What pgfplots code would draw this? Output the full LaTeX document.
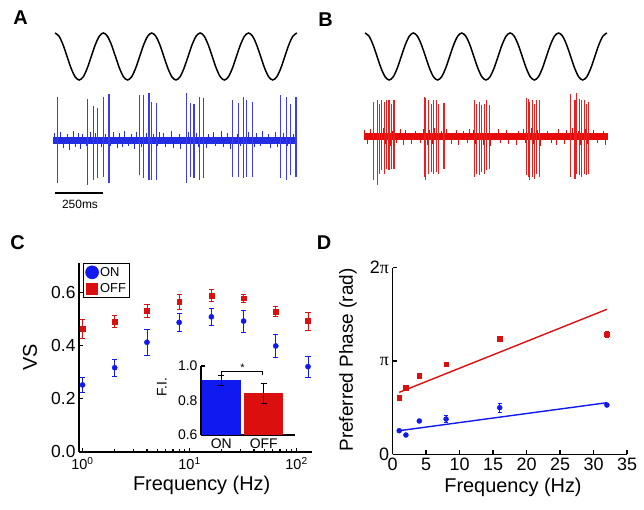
\documentclass[border=0pt]{standalone}
\usepackage{pgfplots}
\usepackage{pgfplotstable}
\pgfplotsset{compat=1.18}
\usepackage{fontspec}
\setmainfont{Liberation Sans}
\newfontfamily\serif{Liberation Serif}
\definecolor{onblue}{RGB}{15,25,240}
\definecolor{offred}{RGB}{220,15,15}
\definecolor{traceblue}{RGB}{35,45,225}
\definecolor{spikeblue}{RGB}{60,60,235}
\definecolor{tracered}{RGB}{230,10,10}
\definecolor{spikered}{RGB}{235,30,30}

\pgfplotstableread{
k v
0 1
1 0.866
2 0.5
3 0
4 -0.5
5 -0.866
6 -1
7 -0.866
8 -0.5
9 0
10 0.5
11 0.866
12 1
13 0.866
14 0.5
15 0
16 -0.5
17 -0.866
18 -1
19 -0.866
20 -0.5
21 0
22 0.5
23 0.866
24 1
25 0.866
26 0.5
27 0
28 -0.5
29 -0.866
30 -1
31 -0.866
32 -0.5
33 0
34 0.5
35 0.866
36 1
37 0.866
38 0.5
39 0
40 -0.5
41 -0.866
42 -1
43 -0.866
44 -0.5
45 0
46 0.5
47 0.866
48 1
49 0.866
50 0.5
51 0
52 -0.5
53 -0.866
54 -1
55 -0.866
56 -0.5
57 0
58 0.5
59 0.866
60 1
}\sinetab

\pgfplotstableread{
t h
-5 7
10 -7
30 8
45 -8
62 6
75 -10
95 9
105 -7
120 7
130 -9
140 6
160 -6
185 8
200 -8
210 7
240 -7
260 6
285 -6
300 8
320 -8
330 7
350 -7
360 9
380 -6
395 6
410 -9
420 8
445 -7
470 7
480 -8
510 6
530 -6
540 8
560 7
570 -7
600 9
610 -8
640 6
650 -9
690 8
700 -6
730 7
740 -7
780 -8
790 6
820 8
830 -6
860 9
870 -7
890 7
905 -9
940 6
960 -6
990 -8
1000 8
1030 -7
1040 7
1060 -6
1070 9
1100 6
1110 -8
1140 8
1150 -7
1180 7
1200 -6
1230 6
1240 -8
}\noisetab

\pgfplotstableread{
t top bot
14 43 -43
169 41 -45
198 34 -40
221 32 -38
249 43 -37
279 46 -43
435 45 -35
456 45 -38
486 47 -40
499 38 -40
525 37 -40
680 47 -43
701 37 -37
718 36 -38
745 43 -40
766 42 -38
916 40 -37
950 37 -37
976 43 -38
990 40 -37
1019 38 -37
1167 45 -38
1196 43 -40
1219 36 -35
1245 43 -37
}\spikesA

\pgfplotstableread{
t top bot
46 35 -43
64 37 -48
74 33 -37
86 37 -33
100 35 -37
112 37 -32
124 37 -33
138 33 -32
150 37 -32
306 40 -40
315 39 -43
327 37 -37
344 33 -35
356 37 -37
370 37 -35
382 33 -37
408 34 -32
565 37 -40
577 33 -37
590 35 -38
603 32 -35
617 33 -37
629 37 -33
642 32 -32
835 39 -38
844 38 -40
852 35 -43
864 37 -40
878 33 -42
887 37 -37
900 37 -40
1062 43 -40
1085 37 -42
1094 44 -37
1107 38 -38
1120 37 -40
1133 37 -37
1146 33 -38
1154 35 -37
}\spikesB

\pgfplotsset{
  hidaxis/.style={scale only axis, hide axis, clip=false},
  panelax/.style={scale only axis, axis x line*=bottom, axis y line*=left,
    axis line style={-, line width=1.6bp}, tick align=inside,
    tick style={black, line width=1.2bp}, major tick length=4bp, minor tick length=2.5bp,
    /pgf/number format/assume math mode=true,
    ticklabel style={font=\fontsize{18}{18}\selectfont}},
}

\begin{document}
\begin{tikzpicture}
\useasboundingbox (0,0) rectangle (644bp,-510bp);

% ---------- Panel A ----------
\begin{axis}[hidaxis, at={(51.1bp,-80bp)}, anchor=south west, width=249.7bp, height=47bp,
  xmin=-0.96, xmax=60.96, ymin=-1, ymax=1]
\addplot[black, line width=1.5bp, smooth] table[x=k, y=v] {\sinetab};
\end{axis}
\begin{axis}[hidaxis, at={(51.1bp,-185bp)}, anchor=south west, width=249.7bp, height=90bp,
  xmin=-20, xmax=1270, ymin=-45, ymax=45]
\addplot[traceblue, line width=7bp] coordinates {(-10,0) (1250,0)};
\addplot[draw=traceblue, mark=none, ycomb, line width=0.6bp] table[x=t, y=h] {\noisetab};
\addplot[draw=spikeblue, mark=none, ycomb, line width=1.1bp] table[x=t, y=top] {\spikesA};
\addplot[draw=spikeblue, mark=none, ycomb, line width=1.1bp] table[x=t, y=bot] {\spikesA};
\end{axis}
\draw[line width=2bp] (55bp,-192.7bp) -- (103.3bp,-192.7bp);
\node[font=\fontsize{12}{12}\selectfont] at (80bp,-204bp) {250ms};

% ---------- Panel B ----------
\begin{axis}[hidaxis, at={(361.1bp,-80bp)}, anchor=south west, width=249.7bp, height=47bp,
  xmin=-0.96, xmax=60.96, ymin=-1, ymax=1]
\addplot[black, line width=1.5bp, smooth] table[x=k, y=v] {\sinetab};
\end{axis}
\begin{axis}[hidaxis, at={(361.1bp,-181.7bp)}, anchor=south west, width=249.7bp, height=90bp,
  xmin=-20, xmax=1270, ymin=-45, ymax=45]
\addplot[tracered, line width=7bp] coordinates {(-3,0) (1255,0)};
\addplot[draw=tracered, mark=none, ycomb, line width=0.6bp] table[x=t, y=h] {\noisetab};
\addplot[draw=spikered, mark=none, ycomb, line width=1.1bp] table[x=t, y=top] {\spikesB};
\addplot[draw=spikered, mark=none, ycomb, line width=1.1bp] table[x=t, y=bot] {\spikesB};
\end{axis}

% ---------- Panel C ----------
\begin{axis}[panelax, at={(79bp,-451.7bp)}, anchor=south west, width=232.5bp, height=189.2bp,
  xmode=log, xmin=0.927, xmax=138, ymin=0, ymax=0.714,
  xtick={1,10,100}, xticklabels={10\textsuperscript{0},10\textsuperscript{1},10\textsuperscript{2}},
  xticklabel style={font=\fontsize{14.5}{14.5}\selectfont, yshift=-2bp},
  minor xtick={2,3,4,5,6,7,8,9,20,30,40,50,60,70,80,90},
  ytick={0,0.2,0.4,0.6}, yticklabels={0.0,0.2,0.4,0.6},
  yticklabel style={font=\fontsize{17.5}{17.5}\selectfont},
  clip=false,
  legend style={at={(axis description cs:0.0185,0.996)}, anchor=north west, draw=black,
    line width=0.6bp, font=\fontsize{13}{13}\selectfont, inner sep=2bp, row sep=3bp,
    nodes={inner sep=1.5bp}},
  legend cell align=left]
\addlegendimage{only marks, mark=*, mark size=6.5bp, onblue}
\addlegendentry{ON}
\addlegendimage{only marks, mark=square*, mark size=5.5bp, offred}
\addlegendentry{OFF}
\addplot[forget plot, only marks, mark=*, mark size=2.6bp, onblue,
  error bars/.cd, y dir=both, y explicit,
  error bar style={line width=0.8bp, onblue},
  error mark options={rotate=90, mark size=2.6bp, line width=0.8bp, onblue}]
  coordinates {(1,0.252) +- (0,0.030) (2,0.317) +- (0,0.033) (4,0.413) +- (0,0.048)
   (8,0.488) +- (0,0.033) (16,0.509) +- (0,0.031) (32,0.493) +- (0,0.041)
   (64,0.399) +- (0,0.044) (128,0.321) +- (0,0.039)};
\addplot[forget plot, only marks, mark=square*, mark size=2.4bp, offred,
  error bars/.cd, y dir=both, y explicit,
  error bar style={line width=0.8bp, offred},
  error mark options={rotate=90, mark size=2.6bp, line width=0.8bp, offred}]
  coordinates {(1,0.463) +- (0,0.037) (2,0.491) +- (0,0.022) (4,0.531) +- (0,0.025)
   (8,0.566) +- (0,0.028) (16,0.589) +- (0,0.022) (32,0.579) +- (0,0.016)
   (64,0.528) +- (0,0.019) (128,0.493) +- (0,0.034)};
\end{axis}
\node[rotate=90, font=\fontsize{20}{20}\selectfont] at (30bp,-357bp) {VS};
\node[font=\fontsize{20}{20}\selectfont] at (201.7bp,-485bp) {Frequency (Hz)};

% inset
\begin{axis}[panelax, at={(201bp,-435bp)}, anchor=south west, width=94bp, height=69bp,
  xmin=0.521, xmax=2.738, ymin=0.6, ymax=1.0,
  axis line style={-, line width=1.5bp},
  ytick={0.6,0.8,1.0}, yticklabels={0.6,0.8,1.0},
  xtick={1,2}, xticklabels={ON,OFF}, xtick style={draw=none},
  ticklabel style={font=\fontsize{14}{14}\selectfont},
  clip mode=individual]
\addplot[ybar, bar width=39bp, bar shift=0pt, fill=onblue, draw=none,
  error bars/.cd, y dir=both, y explicit,
  error bar style={line width=0.9bp, black},
  error mark options={rotate=90, mark size=3bp, line width=0.9bp, black}]
  coordinates {(1,0.917) +- (0,0.029)};
\addplot[ybar, bar width=39bp, bar shift=0pt, fill=offred, draw=none,
  error bars/.cd, y dir=both, y explicit,
  error bar style={line width=0.9bp, black},
  error mark options={rotate=90, mark size=3bp, line width=0.9bp, black}]
  coordinates {(2,0.843) +- (0,0.058)};
\draw[line width=0.8bp] (axis cs:1,0.948) -- (axis cs:1,0.967) -- (axis cs:1.98,0.967) -- (axis cs:1.98,0.948);
\node[font=\fontsize{11}{11}\selectfont] at (axis cs:1.5,0.99) {*};
\end{axis}
\node[rotate=90, font=\fontsize{14}{14}\selectfont] at (161.7bp,-386.7bp) {F.I.};

% ---------- Panel D ----------
\begin{axis}[panelax, at={(392.5bp,-454.3bp)}, anchor=south west, width=234.5bp, height=186.6bp,
  xmin=0, xmax=35, ymin=0, ymax=2,
  xtick={0,5,10,15,20,25,30,35},
  ytick={0,1,2}, yticklabels={0,{\serif π},2{\serif π}},
  clip=false]
\addplot[offred, line width=1.4bp] coordinates {(1,0.664) (32,1.554)};
\addplot[onblue, line width=1.4bp] coordinates {(1,0.253) (32,0.553)};
\addplot[only marks, mark=square*, mark size=2.3bp, offred,
  error bars/.cd, y dir=both, y explicit,
  error bar style={line width=0.6bp, offred},
  error mark options={rotate=90, mark size=2bp, line width=0.6bp, offred}]
  coordinates {(1,0.607) +- (0,0.01) (2,0.714) +- (0,0.01) (4,0.843) +- (0,0.012)
   (8,0.965) +- (0,0.012) (16,1.236) +- (0,0.015) (32,1.289) +- (0,0.03)};
\addplot[only marks, mark=*, mark size=2.5bp, onblue,
  error bars/.cd, y dir=both, y explicit,
  error bar style={line width=0.6bp, onblue},
  error mark options={rotate=90, mark size=2bp, line width=0.6bp, onblue}]
  coordinates {(1,0.253) +- (0,0.01) (2,0.207) +- (0,0.015) (4,0.357) +- (0,0.012)
   (8,0.378) +- (0,0.04) (16,0.50) +- (0,0.05) (32,0.528) +- (0,0.012)};
\end{axis}
\node[rotate=90, font=\fontsize{19}{19}\selectfont] at (348bp,-360bp) {Preferred Phase (rad)};
\node[font=\fontsize{20}{20}\selectfont] at (513bp,-487bp) {Frequency (Hz)};

% panel letters
\node[font=\fontsize{20}{20}\selectfont\bfseries] at (20.5bp,-18bp) {A};
\node[font=\fontsize{20}{20}\selectfont\bfseries] at (325.5bp,-20bp) {B};
\node[font=\fontsize{20}{20}\selectfont\bfseries] at (17.5bp,-242.5bp) {C};
\node[font=\fontsize{20}{20}\selectfont\bfseries] at (324bp,-243bp) {D};
\end{tikzpicture}
\end{document}
